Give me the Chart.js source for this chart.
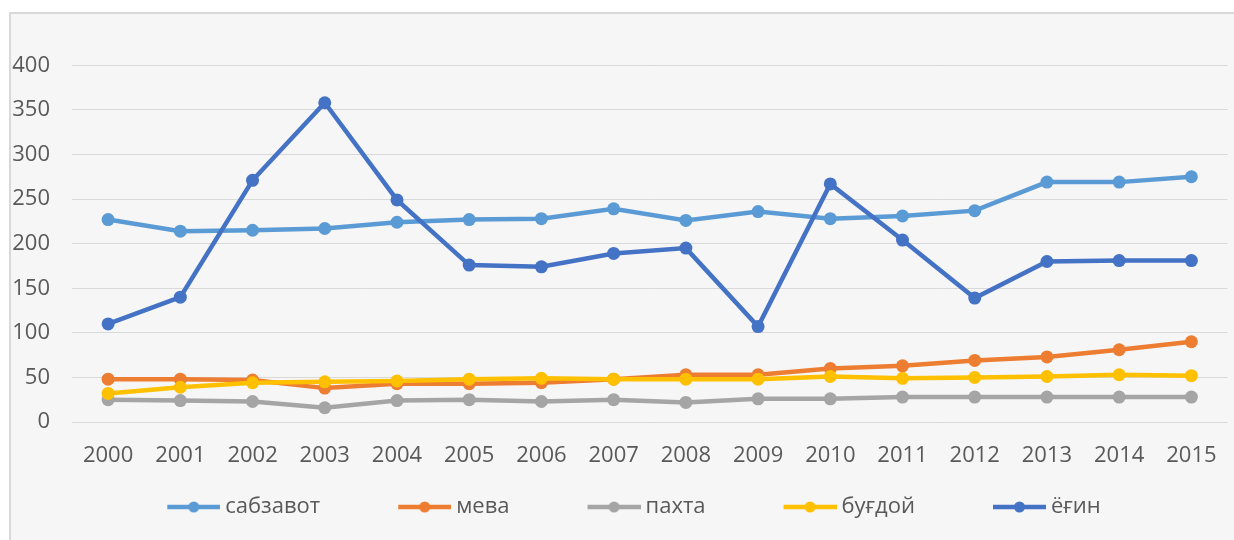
<!DOCTYPE html>
<html>
<head>
<meta charset="utf-8">
<script src="https://cdn.jsdelivr.net/npm/chart.js@4.4.1/dist/chart.umd.min.js"></script>
<style>
  html, body { margin: 0; padding: 0; background: #fff; overflow: hidden; }
  #frame {
    position: absolute; left: 9px; top: 12px;
    width: 1223px; height: 527px;
    background: #f6f6f6;
    border-top: 2px solid #d9d9d9;
    border-left: 2px solid #d9d9d9;
  }
  #chart { display: block; }
</style>
</head>
<body>
<div id="frame"><canvas id="chart" width="1223" height="527"></canvas></div>
<script>
// Йиллар ва қатор қийматлари
const years = ['2000','2001','2002','2003','2004','2005','2006','2007',
               '2008','2009','2010','2011','2012','2013','2014','2015'];
const sabzavot = [227, 214, 215, 217, 224, 227, 228, 239, 226, 236, 228, 231, 237, 269, 269, 275];
const meva     = [48, 48, 47, 38, 43, 43, 44, 48, 53, 53, 60, 63, 69, 73, 81, 90];
const pakhta   = [25, 24, 23, 16, 24, 25, 23, 25, 22, 26, 26, 28, 28, 28, 28, 28];
const bugdoy   = [32, 39, 44, 45, 46, 48, 49, 48, 48, 48, 51, 49, 50, 51, 53, 52];
const yogin    = [110, 140, 271, 358, 249, 176, 174, 189, 195, 107, 267, 204, 139, 180, 181, 181];

const seriesNames  = ['сабзавот', 'мева', 'пахта', 'буғдой', 'ёғин'];
const seriesData   = [sabzavot, meva, pakhta, bugdoy, yogin];
const seriesColors = ['#5b9bd5', '#ed7d31', '#a5a5a5', '#ffc000', '#4472c4'];

const TEXT = '#595959';
const GRID = '#d9d9d9';
const FONT = "'Open Sans', 'Noto Sans', sans-serif";
const FSIZE = 22;

// legend: marker sits at the right end of a wider box so items get spaced out
const LEG_PAD = 50;
const LEG_BOX = 75;

function legendMarker(color) {
  const c = document.createElement('canvas');
  c.width = LEG_BOX + 12;
  c.height = 14;
  const g = c.getContext('2d');
  const x0 = c.width - 53;
  g.strokeStyle = color;
  g.lineWidth = 4.5;
  g.beginPath();
  g.moveTo(x0, 7);
  g.lineTo(c.width, 7);
  g.stroke();
  g.fillStyle = color;
  g.beginPath();
  g.arc(x0 + 26.5, 7, 5.5, 0, Math.PI * 2);
  g.fill();
  return c;
}

const datasets = seriesNames.map((name, i) => ({
  label: name,
  data: seriesData[i],
  borderColor: seriesColors[i],
  backgroundColor: seriesColors[i],
  borderWidth: 4.5,
  pointRadius: 6.5,
  pointBorderWidth: 0,
  pointBackgroundColor: seriesColors[i],
  tension: 0,
  order: seriesNames.length - i, // later series drawn on top
}));

new Chart(document.getElementById('chart'), {
  type: 'line',
  data: { labels: years, datasets },
  options: {
    responsive: false,
    animation: false,
    devicePixelRatio: 1,
    layout: { padding: { top: 51.3, left: 0, right: 5, bottom: 13 } },
    plugins: {
      tooltip: { enabled: false },
      legend: {
        position: 'bottom',
        align: 'center',
        labels: {
          usePointStyle: true,
          pointStyleWidth: LEG_BOX,
          padding: LEG_PAD,
          color: TEXT,
          font: { family: FONT, size: FSIZE },
          generateLabels: (chart) => chart.data.datasets.map((ds, i) => ({
            text: ds.label,
            pointStyle: legendMarker(ds.borderColor),
            fillStyle: ds.borderColor,
            strokeStyle: ds.borderColor,
            lineWidth: 0,
            hidden: false,
            datasetIndex: i,
            fontColor: TEXT,
          })),
        },
      },
    },
    scales: {
      x: {
        offset: true,
        grid: { display: false, drawTicks: false },
        border: { display: false },
        ticks: {
          color: TEXT, font: { family: FONT, size: FSIZE },
          // mirrored so the labels are not clipped to the thin axis box
          mirror: true, padding: -47, maxRotation: 0, autoSkip: false,
        },
        afterFit: (s) => { s.height = 24; },
      },
      y: {
        min: 0,
        max: 400,
        ticks: { stepSize: 50, color: TEXT, font: { family: FONT, size: FSIZE }, padding: 22 },
        grid: { color: GRID, lineWidth: 1, drawTicks: false },
        border: { display: false },
        afterFit: (s) => { s.width = 61; },
      },
    },
  },
});
</script>
</body>
</html>
